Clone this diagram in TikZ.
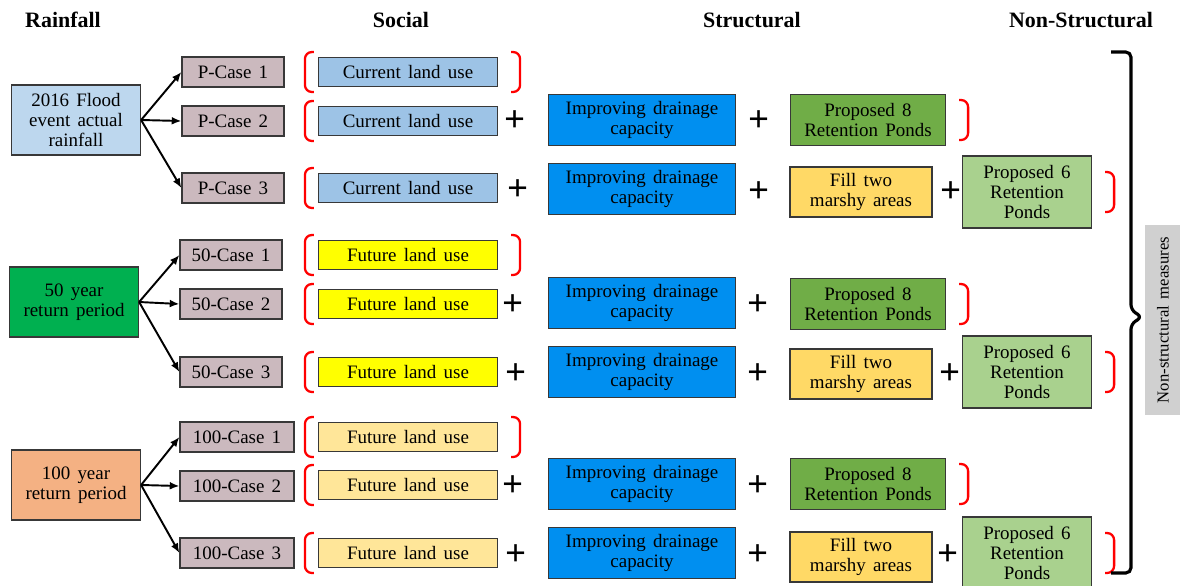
\documentclass[tikz,border=0pt]{standalone}
\usepackage{fontspec}
\setmainfont{Liberation Serif}
\usetikzlibrary{arrows.meta,calc}
\definecolor{rainblue}{HTML}{BDD7EE}
\definecolor{raingreen}{HTML}{00B050}
\definecolor{rainorange}{HTML}{F4B183}
\definecolor{casegray}{HTML}{CBB9BE}
\definecolor{landblue}{HTML}{9DC3E6}
\definecolor{landyellow}{HTML}{FFFF00}
\definecolor{landpale}{HTML}{FFE699}
\definecolor{drainblue}{RGB}{0,143,240}
\definecolor{pondgreen}{HTML}{70AD47}
\definecolor{marshyellow}{HTML}{FFD966}
\definecolor{pondlight}{HTML}{A9D18E}
\definecolor{measgray}{HTML}{D0D0D0}
\tikzstyle{box}=[draw=black!78,line width=0.7pt,align=center,inner sep=0pt,font=\fontsize{10.8}{11.6}\selectfont,execute at begin node={\spaceskip=0.38em\relax}]
\tikzstyle{rain}=[box,minimum width=2.58cm,minimum height=1.4cm]
\tikzstyle{case}=[box,fill=casegray,minimum width=2.04cm,minimum height=0.6cm]
\tikzstyle{social}=[box,minimum width=3.58cm,minimum height=0.58cm]
\tikzstyle{drain}=[box,fill=drainblue,minimum width=3.74cm,minimum height=1.02cm]
\tikzstyle{pond8}=[box,fill=pondgreen,minimum width=3.1cm,minimum height=1.02cm]
\tikzstyle{marsh}=[box,fill=marshyellow,minimum width=2.84cm,minimum height=1.0cm]
\tikzstyle{pond6}=[box,fill=pondlight,minimum width=2.58cm,minimum height=1.44cm]
\tikzstyle{plus}=[inner sep=0pt,font=\fontsize{21}{21}\selectfont\bfseries]
\tikzstyle{head}=[inner sep=0pt,font=\fontsize{12.5}{14}\selectfont\bfseries]
\tikzstyle{link}=[draw,line width=1.1pt,-{Latex[length=5.5pt,width=4.5pt]}]
\tikzstyle{bracket}=[draw=red,line width=1.3pt,rounded corners=4pt]
\tikzstyle{brace}=[draw,line width=1.8pt,rounded corners=3pt]
\tikzstyle{measure}=[fill=measgray,rotate=90,minimum width=3.82cm,minimum height=0.72cm,inner sep=0pt,font=\fontsize{9.5}{11}\selectfont,execute at begin node={\spaceskip=0.4em\relax}]

\begin{document}
\begin{tikzpicture}[x=0.02cm,y=-0.02cm]
    \useasboundingbox (0,0) rectangle (1180,585);
    % titres
    \node[head] (hrain) at (63,20) {Rainfall};
    \node[head] (hsoc) at (401,20) {Social};
    \node[head] (hstr) at (752,20) {Structural};
    \node[head] (hnon) at (1081,20) {Non-Structural};
    % pluie
    \node[rain,fill=rainblue] (rp) at (76,120) {2016 Flood\\event actual\\rainfall};
    \node[rain,fill=raingreen] (r50) at (74,302) {50 year\\return period};
    \node[rain,fill=rainorange] (r100) at (76,485) {100 year\\return period};
    % cas
    \foreach \pos/\name/\txt in {{(233,72)/c1/P-Case 1}, {(233,121)/c2/P-Case 2}, {(233,188)/c3/P-Case 3}, {(231,255)/c4/50-Case 1}, {(231,304)/c5/50-Case 2}, {(231,372)/c6/50-Case 3}}
        \node[case] (\name) at \pos {\txt};
    \foreach \pos/\name/\txt in {{(237,437)/c7/100-Case 1}, {(237,486)/c8/100-Case 2}, {(237,553)/c9/100-Case 3}}
        \node[case,minimum width=2.28cm] (\name) at \pos {\txt};
    % fleches
    \foreach \source/\dest in {rp/c1, rp/c2, rp/c3, r50/c4, r50/c5, r50/c6, r100/c7, r100/c8, r100/c9}
        \path[link] (\source.east) -- (\dest.west);
    % social
    \foreach \pos/\name/\col/\txt in {{(408,72)/s1/landblue/Current land use}, {(408,121)/s2/landblue/Current land use}, {(408,188)/s3/landblue/Current land use},
        {(408,255)/s4/landyellow/Future land use}, {(408,304)/s5/landyellow/Future land use}, {(408,372)/s6/landyellow/Future land use},
        {(408,437)/s7/landpale/Future land use}, {(408,485)/s8/landpale/Future land use}, {(408,553)/s9/landpale/Future land use}}
        \node[social,fill=\col] (\name) at \pos {\txt};
    % structurel
    \foreach \y/\i in {120/2, 189/3, 303/5, 372/6, 484/8, 553/9}
        \node[drain] (d\i) at (642,\y) {Improving drainage\\capacity};
    \foreach \y/\i in {120/2, 304/5, 484/8}
        \node[pond8] (k\i) at (868,\y) {Proposed 8\\Retention Ponds};
    \foreach \y/\i in {192/3, 374/6, 557/9}
        \node[marsh] (m\i) at (861,\y) {Fill two\\marshy areas};
    \foreach \y/\i in {192/3, 372/6, 553/9}
        \node[pond6] (q\i) at (1027,\y) {Proposed 6\\Retention\\Ponds};
    % plus
    \foreach \pos/\name in {{(515,121)/ps2}, {(759,121)/pd2}, {(518,190)/ps3}, {(759,192)/pd3}, {(951,192)/pm3},
        {(513,305)/ps5}, {(758,305)/pd5}, {(516,374)/ps6}, {(758,374)/pd6}, {(950,374)/pm6},
        {(513,486)/ps8}, {(758,486)/pd8}, {(516,555)/ps9}, {(758,555)/pd9}, {(948,555)/pm9}}
        \node[plus] (\name) at \pos {+};
    % crochets
    \foreach \i in {1,...,9}
        \path[bracket] ($(s\i.west)+(-4,-20)$) -- ($(s\i.west)+(-13,-20)$) -- ($(s\i.west)+(-13,20)$) -- ($(s\i.west)+(-4,20)$);
    \foreach \n in {s1, k2, q3, s4, k5, q6, s7, k8, q9}
        \path[bracket] ($(\n.east)+(13,-20)$) -- ($(\n.east)+(22,-20)$) -- ($(\n.east)+(22,20)$) -- ($(\n.east)+(13,20)$);
    % non structurel
    \node[measure] (nsm) at (1163,320) {Non-structural measures};
    \path[brace] (1111,52) -- (1131,52) -- (1131,310) -- (1142,317) -- (1131,324) -- (1131,573) -- (1111,573);
\end{tikzpicture}
\end{document}
